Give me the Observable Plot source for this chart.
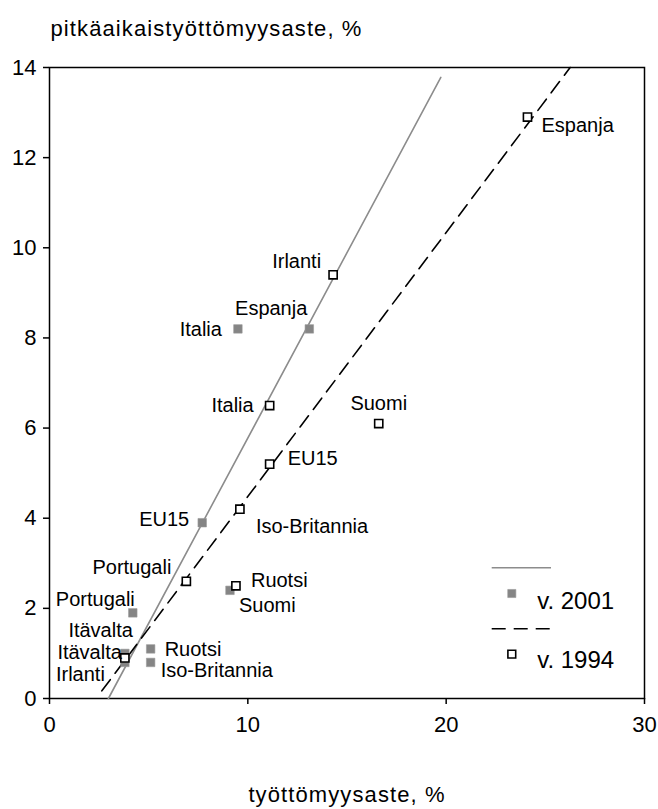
<!DOCTYPE html>
<html><head><meta charset="utf-8">
<script src="https://cdn.jsdelivr.net/npm/d3@7"></script>
<script src="https://cdn.jsdelivr.net/npm/@observablehq/plot@0.6"></script>
<style>
body{margin:0;background:#fff}
#chart svg{font-family:"Liberation Sans",Arial,sans-serif;display:block}
</style>
</head><body><div id="chart"></div>
<script>
// ---- data ----
const countries2001 = ["Italia","Espanja","EU15","Portugali","Itävalta","Irlanti","Ruotsi","Iso-Britannia","Suomi"];
const unemp2001     = [9.5, 13.1, 7.7, 4.2, 3.8, 3.8, 5.1, 5.1, 9.1];
const longTerm2001  = [8.2, 8.2, 3.9, 1.9, 1.0, 0.8, 1.1, 0.8, 2.4];

const countries1994 = ["Espanja","Irlanti","Italia","Suomi","EU15","Iso-Britannia","Portugali","Ruotsi","Itävalta"];
const unemp1994     = [24.1, 14.3, 11.1, 16.6, 11.1, 9.6, 6.9, 9.4, 3.8];
const longTerm1994  = [12.9, 9.4, 6.5, 6.1, 5.2, 4.2, 2.6, 2.5, 0.9];

// trend lines (end points)
const trend2001X = [2.97, 19.73];
const trend2001Y = [0, 13.78];
const trend1994X = [2.64, 26.25];
const trend1994Y = [0.17, 14];

const xTicks = [0, 10, 20, 30];
const yTicks = [0, 2, 4, 6, 8, 10, 12, 14];
const legendLabels = ["v. 2001", "v. 1994"];
const xTitle = "työttömyysaste, %";
const yTitle = "pitkäaikaistyöttömyysaste, %";

// ---- label placement (style) ----
const place2001 = {
  "Italia": [-16, 1, "end"], "Espanja": [-2, -20, "end"], "EU15": [-13, -3, "end"],
  "Portugali": [2, -13, "end"], "Itävalta": [8, -23, "end"], "Irlanti": [-20, 12, "end"],
  "Ruotsi": [14, 1, "start"], "Iso-Britannia": [10, 8, "start"], "Suomi": [9, 15, "start"]
};
const place1994 = {
  "Espanja": [14, 9, "start"], "Irlanti": [-12, -13, "end"], "Italia": [-16, 0, "end"],
  "Suomi": [0, -20, "middle"], "EU15": [18, -6, "start"], "Iso-Britannia": [16, 17, "start"],
  "Portugali": [-15, -14, "end"], "Ruotsi": [15, -5, "start"], "Itävalta": [-3, -5, "end"]
};

const d2001 = countries2001.map((c, i) => ({c, x: unemp2001[i], y: longTerm2001[i]}));
const d1994 = countries1994.map((c, i) => ({c, x: unemp1994[i], y: longTerm1994[i]}));
const t2001 = trend2001X.map((x, i) => ({x, y: trend2001Y[i]}));
const t1994 = trend1994X.map((x, i) => ({x, y: trend1994Y[i]}));

const labelMarks = [];
for (const d of d2001) {
  const [dx, dy, a] = place2001[d.c];
  labelMarks.push(Plot.text([d], {x: "x", y: "y", text: "c", dx, dy, textAnchor: a, fontSize: 20, fill: "#000"}));
}
for (const d of d1994) {
  const [dx, dy, a] = place1994[d.c];
  labelMarks.push(Plot.text([d], {x: "x", y: "y", text: "c", dx, dy, textAnchor: a, fontSize: 20, fill: "#000"}));
}

const chart = Plot.plot({
  width: 658, height: 809,
  marginTop: 67, marginBottom: 111, marginLeft: 49, marginRight: 14,
  style: {fontFamily: '"Liberation Sans", Arial, sans-serif', color: "#000", background: "#fff"},
  x: {domain: [0, 30]},
  y: {domain: [0, 14]},
  marks: [
    Plot.axisX({ticks: xTicks, tickSize: 6, tickPadding: 12, fontSize: 22, label: null, stroke: "#000", strokeWidth: 1.5}),
    Plot.axisY({ticks: yTicks, tickSize: 6, tickPadding: 7, fontSize: 22, label: null, stroke: "#000", strokeWidth: 1.5}),
    Plot.frame({stroke: "#000", strokeWidth: 1.5}),
    Plot.line(t2001, {x: "x", y: "y", stroke: "#8c8c8c", strokeWidth: 1.6}),
    Plot.line(t1994, {x: "x", y: "y", stroke: "#000", strokeWidth: 1.6, strokeDasharray: "14,8"}),
    Plot.dot(d2001, {x: "x", y: "y", symbol: "square", r: 4.8, fill: "#858585", stroke: "#9a9a9a", strokeWidth: 0.6}),
    Plot.dot(d1994, {x: "x", y: "y", symbol: "square", r: 4.6, fill: "#fff", stroke: "#000", strokeWidth: 1.6}),
    ...labelMarks,
    Plot.text([yTitle], {frameAnchor: "top-left", text: d => d, textAnchor: "start", lineAnchor: "bottom", dx: 1, dy: -32, fontSize: 22, fill: "#000"}),
    Plot.text([xTitle], {frameAnchor: "bottom", text: d => d, textAnchor: "middle", lineAnchor: "bottom", dy: 103, fontSize: 22, fill: "#000"}),
    // legend symbols & labels (anchored to frame corner)
    Plot.dot([legendLabels[0]], {frameAnchor: "bottom-right", dx: -132.7, dy: -105, symbol: "square", r: 4.6, fill: "#858585", stroke: "#9a9a9a", strokeWidth: 0.6}),
    Plot.dot([legendLabels[1]], {frameAnchor: "bottom-right", dx: -132.7, dy: -44.4, symbol: "square", r: 4.4, fill: "#fff", stroke: "#000", strokeWidth: 1.6}),
    Plot.text([legendLabels[0]], {frameAnchor: "bottom-right", text: d => d, textAnchor: "start", lineAnchor: "bottom", dx: -107.3, dy: -90, fontSize: 24, fill: "#000"}),
    Plot.text([legendLabels[1]], {frameAnchor: "bottom-right", text: d => d, textAnchor: "start", lineAnchor: "bottom", dx: -107.3, dy: -31, fontSize: 24, fill: "#000"})
  ]
});

// widen the axis titles slightly to match the reference's letter width
const svg = d3.select(chart);
svg.selectAll("text").filter(function() { return this.textContent === yTitle || this.textContent === xTitle; })
  .style("letter-spacing", "1.1px");

// legend line samples
const lg = svg.append("g");
lg.append("line").attr("x1", 491.7).attr("x2", 551).attr("y1", 567.7).attr("y2", 567.7)
  .attr("stroke", "#8c8c8c").attr("stroke-width", 1.6);
lg.append("line").attr("x1", 491.7).attr("x2", 551).attr("y1", 628.7).attr("y2", 628.7)
  .attr("stroke", "#000").attr("stroke-width", 1.6).attr("stroke-dasharray", "14,8");

document.getElementById("chart").append(chart);
</script>
</body></html>
